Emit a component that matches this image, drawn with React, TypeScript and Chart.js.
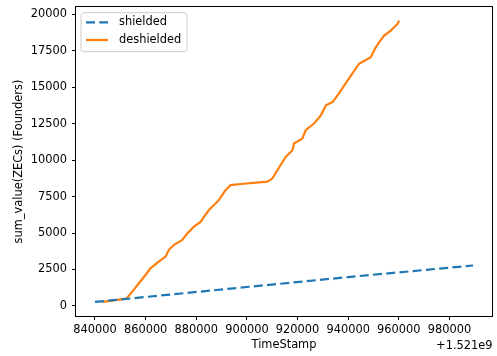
import React, { useEffect, useRef } from 'react';
import { Chart, registerables } from 'chart.js';

Chart.register(...registerables);

const shieldedX = [840000, 900000, 940000, 989300];
const shieldedY = [273, 1298, 1980, 2775];

const deshieldedX = [842900, 852400, 854800, 857400, 860000, 862000, 865300, 867900, 869200, 871200, 874500, 876500, 879100, 881800, 883100, 885000, 887000, 889000, 891600, 893600, 897600, 908100, 910100, 912100, 915300, 918000, 918600, 921900, 923200, 926500, 929200, 931200, 933800, 935800, 939800, 944300, 948900, 950900, 952200, 954200, 956800, 959500, 960100];
const deshieldedY = [273, 500, 1000, 1570, 2140, 2600, 3050, 3390, 3850, 4190, 4530, 4990, 5440, 5780, 6120, 6580, 6920, 7270, 7950, 8290, 8360, 8520, 8750, 9320, 10220, 10680, 11140, 11480, 12050, 12510, 13070, 13760, 13980, 14440, 15470, 16610, 17060, 17740, 18080, 18540, 18880, 19340, 19570];

const xTicks = [840000, 860000, 880000, 900000, 920000, 940000, 960000, 980000];
const yTicks = [0, 2500, 5000, 7500, 10000, 12500, 15000, 17500, 20000];

const seriesNames = ['shielded', 'deshielded'];
const seriesColors = ['#1f77b4', '#ff7f0e'];
const xTitle = 'TimeStamp';
const yTitle = 'sum_value(ZECs) (Founders)';
const xOffsetLabel = '+1.521e9';

const FONT = 'DejaVu Sans';
const FS = 11.4;
const DASH = [9, 4.3];
const LW = 2.2;

export default function App() {
  const ref = useRef<HTMLCanvasElement | null>(null);
  useEffect(() => {
    const canvas = ref.current;
    if (!canvas) return;
    const framePlugin = {
      id: 'frame',
      afterDraw(chart: any) {
        const { ctx, chartArea } = chart;
        const l = Math.round(chartArea.left) - 0.5;
        const r = Math.round(chartArea.right) + 0.5;
        const t = Math.round(chartArea.top) - 0.5;
        const b = Math.round(chartArea.bottom) + 0.5;
        ctx.save();
        ctx.strokeStyle = '#000';
        ctx.lineWidth = 1;
        ctx.strokeRect(l, t, r - l, b - t);
        ctx.fillStyle = '#000';
        ctx.font = `${FS}px "${FONT}"`;
        ctx.textAlign = 'right';
        ctx.textBaseline = 'middle';
        ctx.fillText(xOffsetLabel, r, 345.7);
        const lx = 81, ly = 12.7, lw = 106, lh = 39;
        ctx.beginPath();
        ctx.roundRect(lx, ly, lw, lh, 3);
        ctx.fillStyle = 'rgba(255,255,255,0.8)';
        ctx.fill();
        ctx.strokeStyle = '#cccccc';
        ctx.lineWidth = 1;
        ctx.stroke();
        const rows = [22.3, 40];
        seriesNames.forEach((name, i) => {
          ctx.beginPath();
          ctx.strokeStyle = seriesColors[i];
          ctx.lineWidth = LW;
          ctx.setLineDash(i === 0 ? DASH : []);
          ctx.moveTo(86, rows[i]);
          ctx.lineTo(108, rows[i]);
          ctx.stroke();
          ctx.setLineDash([]);
          ctx.fillStyle = '#000';
          ctx.textAlign = 'left';
          ctx.textBaseline = 'middle';
          ctx.fillText(name, 119, rows[i]);
        });
        ctx.restore();
      },
    };

    const chart = new Chart(canvas, {
      type: 'line',
      data: {
        datasets: [
          {
            label: seriesNames[0],
            data: shieldedX.map((x, i) => ({ x, y: shieldedY[i] })),
            borderColor: seriesColors[0],
            borderWidth: LW,
            borderDash: DASH,
            pointRadius: 0,
            fill: false,
            tension: 0,
          },
          {
            label: seriesNames[1],
            data: deshieldedX.map((x, i) => ({ x, y: deshieldedY[i] })),
            borderColor: seriesColors[1],
            borderWidth: LW,
            pointRadius: 0,
            fill: false,
            tension: 0,
          },
        ],
      },
      options: {
        animation: false,
        responsive: false,
        devicePixelRatio: 1,
        layout: { padding: { left: 0, right: 5, top: 7, bottom: 0 } },
        plugins: { legend: { display: false }, tooltip: { enabled: false } },
        font: { family: FONT, size: FS },
        scales: {
          x: {
            type: 'linear',
            min: 832500,
            max: 996800,
            afterBuildTicks: (s: any) => { s.ticks = xTicks.map((v) => ({ value: v })); },
            afterFit: (s: any) => { s.height = 40; s.paddingLeft = 0; s.paddingRight = 0; },
            ticks: {
              color: '#000',
              font: { family: FONT, size: FS },
              padding: 3,
              maxRotation: 0,
              autoSkip: false,
              callback: (v: any) => String(v),
            },
            grid: { drawOnChartArea: false, drawTicks: true, tickLength: 4, color: '#000' },
            border: { display: false },
            title: { display: true, text: xTitle, color: '#000', font: { family: FONT, size: FS }, padding: { top: 0, bottom: 3.7 } },
          },
          y: {
            type: 'linear',
            min: -690,
            max: 20500,
            afterBuildTicks: (s: any) => { s.ticks = yTicks.map((v) => ({ value: v })); },
            afterFit: (s: any) => { s.width = 76; s.paddingTop = 0; s.paddingBottom = 0; },
            ticks: {
              color: '#000',
              font: { family: FONT, size: FS },
              padding: 5,
              autoSkip: false,
              callback: (v: any) => String(v),
            },
            grid: { drawOnChartArea: false, drawTicks: true, tickLength: 4, color: '#000' },
            border: { display: false },
            title: { display: true, text: yTitle, color: '#000', font: { family: FONT, size: FS }, padding: { top: 12.4, bottom: 0 } },
          },
        },
      },
      plugins: [framePlugin],
    } as any);
    return () => chart.destroy();
  }, []);

  return (
    <div style={{ position: 'fixed', left: 0, top: 0, width: 497, height: 356, background: '#fff' }}>
      <canvas ref={ref} width={497} height={356} />
    </div>
  );
}
